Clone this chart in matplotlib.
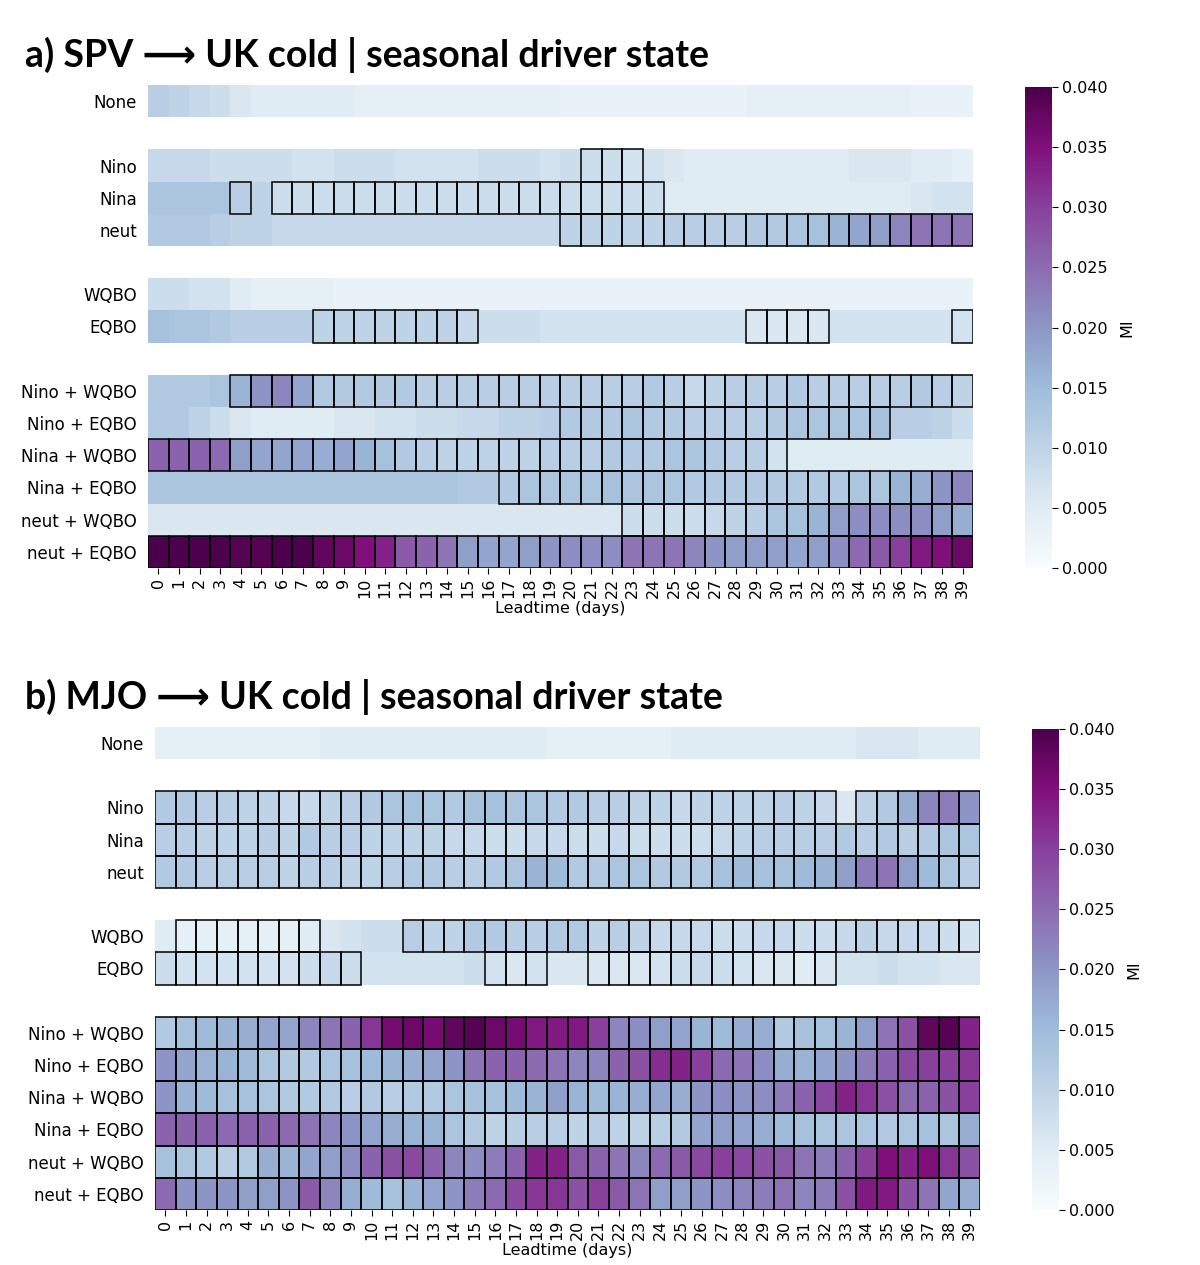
import numpy as np
import matplotlib
matplotlib.use("Agg")
import matplotlib.pyplot as plt
from matplotlib.patches import Rectangle

plt.rcParams['font.family'] = ['DejaVu Sans']

leadtime = list(range(40))
row_labels = ["None", "", "Nino", "Nina", "neut", "", "WQBO", "EQBO", "",
              "Nino + WQBO", "Nino + EQBO", "Nina + WQBO", "Nina + EQBO",
              "neut + WQBO", "neut + EQBO"]

# --- SPV -> UK cold: mutual information per driver state and leadtime ---
spv_none = [0.011, 0.010, 0.009, 0.008, 0.006, 0.005, 0.005, 0.005, 0.005, 0.005,
            0.004, 0.004, 0.004, 0.004, 0.004, 0.004, 0.004, 0.004, 0.004, 0.004,
            0.003, 0.003, 0.003, 0.003, 0.003, 0.003, 0.003, 0.003, 0.003, 0.004,
            0.004, 0.004, 0.004, 0.004, 0.004, 0.004, 0.004, 0.003, 0.003, 0.003]
spv_nino = [0.009, 0.009, 0.009, 0.008, 0.008, 0.008, 0.008, 0.007, 0.007, 0.008,
            0.008, 0.008, 0.007, 0.007, 0.007, 0.007, 0.008, 0.008, 0.008, 0.007,
            0.008, 0.008, 0.008, 0.007, 0.007, 0.006, 0.005, 0.005, 0.005, 0.005,
            0.005, 0.005, 0.005, 0.005, 0.006, 0.006, 0.006, 0.005, 0.005, 0.004]
spv_nina = [0.013, 0.013, 0.013, 0.013, 0.011, 0.010, 0.008, 0.008, 0.008, 0.008,
            0.008, 0.008, 0.008, 0.008, 0.008, 0.008, 0.008, 0.008, 0.008, 0.008,
            0.008, 0.008, 0.008, 0.008, 0.008, 0.005, 0.005, 0.005, 0.005, 0.005,
            0.005, 0.005, 0.005, 0.005, 0.005, 0.005, 0.005, 0.006, 0.007, 0.007]
spv_neut = [0.012, 0.012, 0.012, 0.011, 0.010, 0.010, 0.009, 0.009, 0.009, 0.009,
            0.009, 0.009, 0.009, 0.009, 0.009, 0.009, 0.009, 0.009, 0.009, 0.009,
            0.010, 0.010, 0.010, 0.010, 0.010, 0.011, 0.011, 0.011, 0.011, 0.012,
            0.012, 0.013, 0.014, 0.016, 0.018, 0.019, 0.022, 0.024, 0.024, 0.024]
spv_wqbo = [0.008, 0.008, 0.007, 0.007, 0.005, 0.004, 0.004, 0.004, 0.004, 0.003,
            0.003, 0.003, 0.003, 0.003, 0.003, 0.003, 0.003, 0.003, 0.003, 0.003,
            0.003, 0.003, 0.003, 0.003, 0.003, 0.003, 0.003, 0.003, 0.003, 0.003,
            0.003, 0.003, 0.003, 0.003, 0.003, 0.003, 0.003, 0.003, 0.003, 0.003]
spv_eqbo = [0.014, 0.013, 0.013, 0.012, 0.011, 0.011, 0.011, 0.011, 0.010, 0.010,
            0.010, 0.010, 0.010, 0.010, 0.010, 0.009, 0.008, 0.008, 0.008, 0.007,
            0.007, 0.007, 0.007, 0.007, 0.007, 0.007, 0.007, 0.007, 0.007, 0.006,
            0.006, 0.006, 0.006, 0.007, 0.007, 0.007, 0.007, 0.007, 0.007, 0.007]
spv_nino_wqbo = [0.012, 0.012, 0.012, 0.013, 0.016, 0.020, 0.022, 0.018, 0.012, 0.012,
                 0.012, 0.012, 0.012, 0.011, 0.011, 0.011, 0.011, 0.011, 0.011, 0.011,
                 0.011, 0.011, 0.011, 0.011, 0.012, 0.011, 0.009, 0.010, 0.011, 0.011,
                 0.011, 0.012, 0.011, 0.011, 0.011, 0.011, 0.011, 0.012, 0.011, 0.010]
spv_nino_eqbo = [0.012, 0.012, 0.010, 0.008, 0.006, 0.005, 0.005, 0.005, 0.005, 0.006,
                 0.006, 0.007, 0.007, 0.008, 0.008, 0.009, 0.009, 0.010, 0.010, 0.011,
                 0.012, 0.012, 0.012, 0.013, 0.012, 0.012, 0.011, 0.011, 0.011, 0.011,
                 0.012, 0.013, 0.013, 0.013, 0.013, 0.014, 0.011, 0.011, 0.010, 0.008]
spv_nina_wqbo = [0.026, 0.026, 0.026, 0.025, 0.019, 0.018, 0.018, 0.018, 0.017, 0.018,
                 0.016, 0.014, 0.012, 0.011, 0.010, 0.010, 0.010, 0.010, 0.010, 0.011,
                 0.011, 0.011, 0.012, 0.012, 0.012, 0.013, 0.013, 0.012, 0.011, 0.011,
                 0.007, 0.005, 0.005, 0.005, 0.005, 0.005, 0.005, 0.005, 0.005, 0.005]
spv_nina_eqbo = [0.013, 0.013, 0.013, 0.013, 0.013, 0.013, 0.013, 0.013, 0.013, 0.013,
                 0.013, 0.013, 0.013, 0.013, 0.013, 0.012, 0.012, 0.012, 0.013, 0.013,
                 0.013, 0.013, 0.014, 0.013, 0.013, 0.013, 0.012, 0.012, 0.012, 0.012,
                 0.012, 0.012, 0.012, 0.012, 0.013, 0.013, 0.016, 0.017, 0.020, 0.022]
spv_neut_wqbo = [0.006, 0.006, 0.006, 0.006, 0.006, 0.006, 0.006, 0.006, 0.006, 0.006,
                 0.006, 0.006, 0.006, 0.006, 0.006, 0.006, 0.006, 0.006, 0.006, 0.006,
                 0.006, 0.006, 0.006, 0.008, 0.008, 0.008, 0.008, 0.009, 0.010, 0.011,
                 0.013, 0.014, 0.016, 0.019, 0.021, 0.021, 0.021, 0.021, 0.019, 0.017]
spv_neut_eqbo = [0.040, 0.040, 0.040, 0.040, 0.039, 0.039, 0.040, 0.040, 0.038, 0.037,
                 0.035, 0.033, 0.027, 0.026, 0.024, 0.019, 0.018, 0.018, 0.019, 0.020,
                 0.021, 0.021, 0.021, 0.024, 0.024, 0.024, 0.022, 0.020, 0.019, 0.019,
                 0.019, 0.018, 0.019, 0.021, 0.025, 0.027, 0.030, 0.034, 0.035, 0.037]

# --- MJO -> UK cold ---
mjo_none = [0.004, 0.004, 0.004, 0.004, 0.004, 0.004, 0.004, 0.004, 0.005, 0.005,
            0.005, 0.005, 0.005, 0.005, 0.005, 0.005, 0.005, 0.005, 0.005, 0.004,
            0.004, 0.004, 0.004, 0.004, 0.004, 0.005, 0.005, 0.005, 0.005, 0.005,
            0.005, 0.005, 0.005, 0.005, 0.006, 0.006, 0.006, 0.005, 0.005, 0.005]
mjo_nino = [0.012, 0.012, 0.011, 0.011, 0.010, 0.010, 0.009, 0.009, 0.010, 0.011,
            0.012, 0.013, 0.014, 0.013, 0.012, 0.014, 0.014, 0.013, 0.013, 0.012,
            0.012, 0.011, 0.011, 0.010, 0.010, 0.009, 0.010, 0.010, 0.010, 0.010,
            0.011, 0.010, 0.009, 0.006, 0.010, 0.012, 0.017, 0.022, 0.023, 0.020]
mjo_nina = [0.011, 0.011, 0.010, 0.010, 0.010, 0.011, 0.010, 0.012, 0.011, 0.011,
            0.010, 0.010, 0.010, 0.010, 0.009, 0.009, 0.008, 0.008, 0.009, 0.009,
            0.008, 0.008, 0.009, 0.008, 0.008, 0.008, 0.008, 0.009, 0.010, 0.011,
            0.011, 0.011, 0.011, 0.012, 0.011, 0.012, 0.011, 0.012, 0.013, 0.013]
mjo_neut = [0.012, 0.012, 0.011, 0.011, 0.011, 0.011, 0.010, 0.011, 0.011, 0.010,
            0.010, 0.011, 0.012, 0.012, 0.011, 0.011, 0.012, 0.013, 0.016, 0.015,
            0.012, 0.012, 0.013, 0.013, 0.012, 0.012, 0.012, 0.014, 0.015, 0.014,
            0.014, 0.015, 0.016, 0.019, 0.023, 0.024, 0.019, 0.015, 0.013, 0.011]
mjo_wqbo = [0.005, 0.004, 0.004, 0.004, 0.004, 0.004, 0.004, 0.005, 0.006, 0.007,
            0.008, 0.008, 0.011, 0.010, 0.010, 0.012, 0.012, 0.011, 0.011, 0.012,
            0.012, 0.010, 0.011, 0.010, 0.009, 0.009, 0.009, 0.008, 0.008, 0.009,
            0.009, 0.008, 0.008, 0.009, 0.010, 0.009, 0.009, 0.009, 0.008, 0.007]
mjo_eqbo = [0.008, 0.007, 0.007, 0.007, 0.007, 0.007, 0.007, 0.008, 0.009, 0.008,
            0.007, 0.007, 0.007, 0.007, 0.007, 0.008, 0.007, 0.006, 0.007, 0.006,
            0.006, 0.006, 0.006, 0.006, 0.007, 0.008, 0.009, 0.008, 0.007, 0.006,
            0.006, 0.005, 0.006, 0.007, 0.007, 0.008, 0.007, 0.007, 0.006, 0.006]
mjo_nino_wqbo = [0.012, 0.014, 0.015, 0.016, 0.017, 0.018, 0.018, 0.022, 0.024, 0.026,
                 0.031, 0.036, 0.037, 0.036, 0.038, 0.039, 0.037, 0.036, 0.034, 0.034,
                 0.034, 0.030, 0.022, 0.021, 0.019, 0.018, 0.016, 0.015, 0.017, 0.017,
                 0.012, 0.014, 0.014, 0.016, 0.019, 0.024, 0.028, 0.038, 0.039, 0.033]
mjo_nino_eqbo = [0.020, 0.018, 0.016, 0.016, 0.015, 0.013, 0.012, 0.012, 0.013, 0.014,
                 0.015, 0.016, 0.017, 0.018, 0.020, 0.024, 0.026, 0.026, 0.025, 0.024,
                 0.022, 0.022, 0.026, 0.028, 0.032, 0.033, 0.030, 0.025, 0.024, 0.021,
                 0.017, 0.016, 0.018, 0.020, 0.023, 0.026, 0.029, 0.030, 0.030, 0.031]
mjo_nina_wqbo = [0.020, 0.016, 0.015, 0.014, 0.014, 0.013, 0.012, 0.012, 0.012, 0.011,
                 0.012, 0.011, 0.012, 0.012, 0.013, 0.014, 0.014, 0.015, 0.016, 0.019,
                 0.016, 0.015, 0.016, 0.017, 0.018, 0.017, 0.020, 0.021, 0.020, 0.021,
                 0.023, 0.026, 0.029, 0.033, 0.031, 0.028, 0.025, 0.026, 0.028, 0.030]
mjo_nina_eqbo = [0.026, 0.026, 0.026, 0.025, 0.026, 0.026, 0.025, 0.024, 0.022, 0.020,
                 0.018, 0.017, 0.016, 0.016, 0.013, 0.012, 0.010, 0.011, 0.011, 0.011,
                 0.010, 0.011, 0.010, 0.010, 0.011, 0.012, 0.018, 0.019, 0.018, 0.017,
                 0.015, 0.014, 0.013, 0.013, 0.013, 0.012, 0.013, 0.014, 0.013, 0.017]
mjo_neut_wqbo = [0.014, 0.013, 0.012, 0.011, 0.012, 0.017, 0.016, 0.018, 0.019, 0.021,
                 0.026, 0.028, 0.029, 0.026, 0.022, 0.021, 0.023, 0.026, 0.033, 0.033,
                 0.027, 0.026, 0.024, 0.022, 0.025, 0.027, 0.029, 0.030, 0.029, 0.028,
                 0.027, 0.024, 0.023, 0.026, 0.030, 0.035, 0.033, 0.035, 0.031, 0.028]
mjo_neut_eqbo = [0.025, 0.020, 0.020, 0.020, 0.019, 0.019, 0.020, 0.027, 0.022, 0.017,
                 0.015, 0.014, 0.016, 0.018, 0.020, 0.023, 0.025, 0.029, 0.031, 0.031,
                 0.028, 0.030, 0.027, 0.024, 0.019, 0.019, 0.020, 0.021, 0.022, 0.023,
                 0.024, 0.022, 0.023, 0.028, 0.034, 0.034, 0.028, 0.024, 0.018, 0.017]

# significant cells, as inclusive (first, last) leadtime ranges per row
spv_sig = {
    "Nino": [(21, 23)],
    "Nina": [(4, 4), (6, 24)],
    "neut": [(20, 39)],
    "EQBO": [(8, 15), (29, 32), (39, 39)],
    "Nino + WQBO": [(4, 39)],
    "Nino + EQBO": [(20, 35)],
    "Nina + WQBO": [(0, 30)],
    "Nina + EQBO": [(17, 39)],
    "neut + WQBO": [(23, 39)],
    "neut + EQBO": [(0, 39)],
}
mjo_sig = {
    "Nino": [(0, 32), (34, 39)],
    "Nina": [(0, 39)],
    "neut": [(0, 39)],
    "WQBO": [(1, 7), (12, 39)],
    "EQBO": [(0, 9), (16, 18), (21, 32)],
    "Nino + WQBO": [(0, 39)],
    "Nino + EQBO": [(0, 39)],
    "Nina + WQBO": [(0, 39)],
    "Nina + EQBO": [(0, 39)],
    "neut + WQBO": [(0, 39)],
    "neut + EQBO": [(0, 39)],
}

blank = [np.nan] * 40
spv_rows = [spv_none, blank, spv_nino, spv_nina, spv_neut, blank, spv_wqbo, spv_eqbo, blank,
            spv_nino_wqbo, spv_nino_eqbo, spv_nina_wqbo, spv_nina_eqbo, spv_neut_wqbo, spv_neut_eqbo]
mjo_rows = [mjo_none, blank, mjo_nino, mjo_nina, mjo_neut, blank, mjo_wqbo, mjo_eqbo, blank,
            mjo_nino_wqbo, mjo_nino_eqbo, mjo_nina_wqbo, mjo_nina_eqbo, mjo_neut_wqbo, mjo_neut_eqbo]


def draw_panel(fig, ax_rect, cax_rect, rows, sig, title, title_y):
    ax = fig.add_axes(ax_rect)
    cax = fig.add_axes(cax_rect)
    data = np.ma.masked_invalid(np.array(rows, dtype=float))
    mesh = ax.pcolormesh(data, cmap="BuPu", vmin=0, vmax=0.04)
    ax.set_xlim(0, len(leadtime))
    ax.set_ylim(len(row_labels), 0)

    # black outline around significant cells
    for r, label in enumerate(row_labels):
        for first, last in sig.get(label, []):
            for c in range(first, last + 1):
                ax.add_patch(Rectangle((c, r), 1, 1, fill=False, edgecolor="black", lw=1.1))

    for s in ax.spines.values():
        s.set_visible(False)
    ax.set_xticks(np.arange(len(leadtime)) + 0.5)
    ax.set_xticklabels([str(v) for v in leadtime], rotation=90, fontsize=11.5)
    ax.set_yticks([i + 0.5 for i, l in enumerate(row_labels) if l])
    ax.set_yticklabels([l for l in row_labels if l], fontsize=12)
    ax.tick_params(axis="y", length=0, pad=8)
    ax.tick_params(axis="x", length=4, pad=3)
    ax.set_xlabel("Leadtime (days)", fontsize=11.5, labelpad=2)

    cb = fig.colorbar(mesh, cax=cax)
    cb.outline.set_visible(False)
    cb.set_ticks(np.arange(0, 0.0401, 0.005))
    cb.ax.set_yticklabels([f"{t:.3f}" for t in np.arange(0, 0.0401, 0.005)], fontsize=11.5)
    cb.ax.tick_params(length=4)
    cb.set_label("MI", fontsize=11.5, labelpad=8)

    fig.text(0.021, title_y, title, fontsize=27, fontweight="bold",
             family=["Lato", "DejaVu Sans"], va="center", ha="left")


fig = plt.figure(figsize=(12, 12.65), dpi=100)
draw_panel(fig, [0.1233, 0.5510, 0.6875, 0.3818], [0.8542, 0.5510, 0.0225, 0.3802],
           spv_rows, spv_sig, "a) SPV \u27f6 UK cold | seasonal driver state", 0.9565)
draw_panel(fig, [0.1292, 0.0435, 0.6875, 0.3818], [0.8600, 0.0435, 0.0225, 0.3802],
           mjo_rows, mjo_sig, "b) MJO \u27f6 UK cold | seasonal driver state", 0.449)

fig.savefig("out.png", dpi=100)
